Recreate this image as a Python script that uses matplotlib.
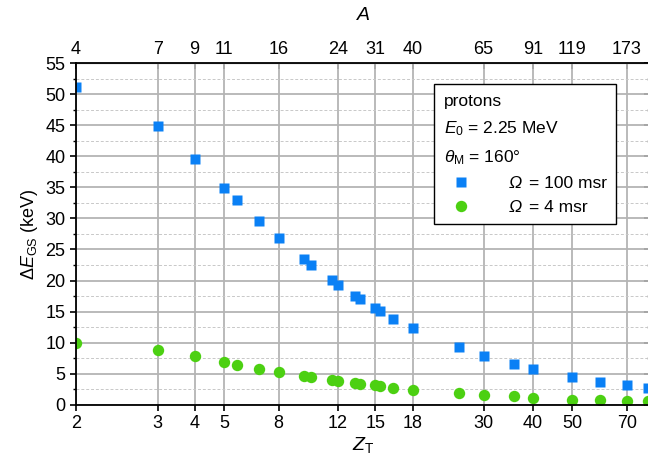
import numpy as np
import matplotlib
matplotlib.use("Agg")
import matplotlib.pyplot as plt
from matplotlib.ticker import FixedLocator, NullLocator, MultipleLocator

plt.rcParams['font.family'] = ['Liberation Sans', 'DejaVu Sans']
plt.rcParams['mathtext.fontset'] = 'custom'
plt.rcParams['mathtext.rm'] = 'Liberation Sans'
plt.rcParams['mathtext.it'] = 'Liberation Sans:italic'

# target mass numbers (x positions are log A)
mass_a = [4, 7, 9, 11, 12, 14, 16, 19, 20, 23, 24, 27, 28, 31, 32, 35, 40,
          55, 65, 80, 91, 119, 144, 173, 200]
# ground state energy shift (keV)
de_100msr = [51.2, 44.9, 39.6, 34.9, 33.0, 29.6, 26.8, 23.4, 22.5, 20.1, 19.3,
             17.5, 17.0, 15.6, 15.05, 13.8, 12.35, 9.3, 7.8, 6.55, 5.7, 4.4,
             3.6, 3.1, 2.7]
de_4msr = [10.0, 8.8, 7.8, 6.8, 6.45, 5.8, 5.3, 4.6, 4.4, 3.97, 3.75, 3.5,
           3.3, 3.1, 2.95, 2.7, 2.4, 1.8, 1.55, 1.3, 1.07, 0.8, 0.7, 0.6, 0.5]

# axis ticks: A positions, labelled with Z on bottom and A on top
tick_a = [4, 7, 9, 11, 16, 24, 31, 40, 65, 91, 119, 173]
tick_z = ['2', '3', '4', '5', '8', '12', '15', '18', '30', '40', '50', '70']

blue = '#0a80f5'
green = '#4cd012'

fig = plt.figure(figsize=(6.48, 4.65), dpi=100)
ax = fig.add_axes([76/648, 1-404.5/465, (650-76)/648, (404.5-63.5)/465])

ax.set_xscale('log')
ax.set_xlim(4, 4*np.exp((650-76)/146.2))
ax.set_ylim(0, 55)

ax.xaxis.set_major_locator(FixedLocator(tick_a))
ax.xaxis.set_minor_locator(NullLocator())
ax.set_xticklabels(tick_z)
ax.yaxis.set_major_locator(MultipleLocator(5))
ax.yaxis.set_minor_locator(MultipleLocator(2.5))

ax.grid(True, which='major', axis='both', color='#b4b4b4', lw=1.3)
ax.grid(True, which='minor', axis='y', color='#c8c8c8', lw=0.7, ls=(0, (3, 2)))
ax.set_axisbelow(True)

# the italic Omega is put in the gap between marker and label below
ax.plot(mass_a, de_100msr, 's', color=blue, ms=7.2, mec='none', label='= 100 msr')
ax.plot(mass_a, de_4msr, 'o', color=green, ms=8.2, mec='none', label='= 4 msr')

ax.tick_params(axis='both', which='major', labelsize=13, direction='out', length=4, width=1.2)
ax.tick_params(axis='y', which='minor', direction='out', length=2.5, width=1)
for s in ax.spines.values():
    s.set_linewidth(1.3)

top = ax.secondary_xaxis('top')
top.set_xscale('log')
top.xaxis.set_major_locator(FixedLocator(tick_a))
top.xaxis.set_minor_locator(NullLocator())
top.set_xticklabels([str(a) for a in tick_a])
top.tick_params(direction='in', labelsize=13, length=4, width=1.2, pad=4)
top.set_xlabel('A', fontsize=14, style='italic', labelpad=15)

right = ax.secondary_yaxis('right')
right.yaxis.set_major_locator(MultipleLocator(5))
right.yaxis.set_minor_locator(MultipleLocator(2.5))
right.tick_params(which='major', direction='in', length=4, width=1.2, labelright=False)
right.tick_params(which='minor', direction='in', length=2.5, width=1)

ax.set_xlabel(r'$Z_\mathrm{T}$', fontsize=14, labelpad=2)
ax.set_ylabel(r'$\Delta E_\mathrm{GS}$ (keV)', fontsize=13, labelpad=4)

leg = ax.legend(loc='upper left', bbox_to_anchor=((434-76)/574, 1-(84-63.5)/341),
                fontsize=12.5, frameon=True, fancybox=False, edgecolor='black',
                framealpha=1, borderaxespad=0, handletextpad=2.9, handlelength=2.0,
                title='protons\n' + r'$E_0$ = 2.25 MeV' + '\n' + r'$\theta_\mathrm{M}$ = 160°',
                title_fontsize=12.5, borderpad=0.55, labelspacing=0.5)
leg.get_title().set_linespacing(1.75)
leg.get_frame().set_linewidth(1.0)
leg._legend_box.align = 'left'

fig.canvas.draw()
for t in leg.get_texts():
    bb = t.get_window_extent()
    fig.text((bb.x0 - 7) / fig.bbox.width, bb.y0 / fig.bbox.height, 'Ω',
             fontsize=12.5, style='italic', va='bottom', ha='right', zorder=10)

fig.savefig('out.png', dpi=100)
